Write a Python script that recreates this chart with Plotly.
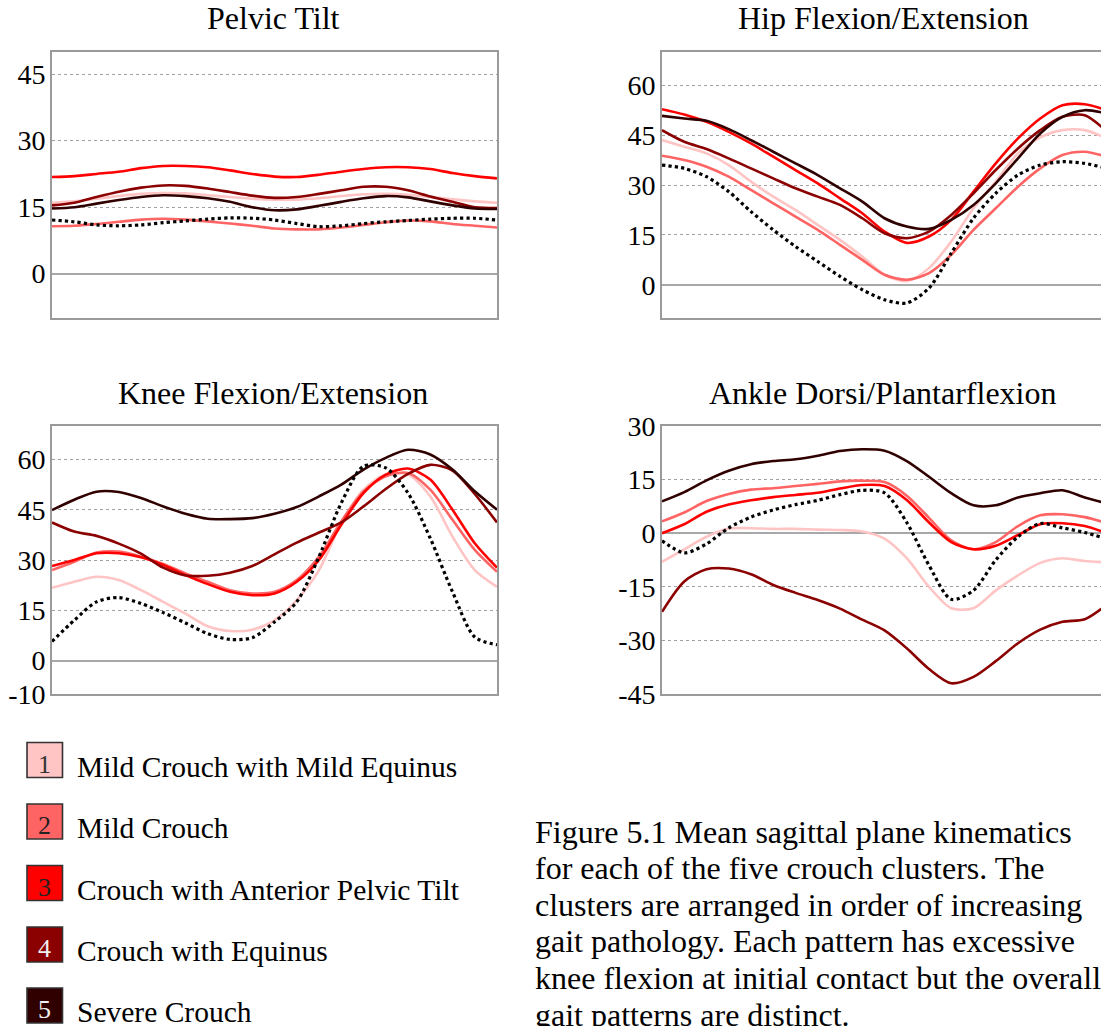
import plotly.graph_objects as go

# ---------------- data ----------------
pct = [0, 5, 10, 15, 20, 25, 30, 35, 40, 45, 50, 55, 60, 65, 70, 75, 80, 85, 90, 95, 100]

cluster_names = ["Mild Crouch with Mild Equinus", "Mild Crouch",
                 "Crouch with Anterior Pelvic Tilt", "Crouch with Equinus", "Severe Crouch"]
cluster_nums = ["1", "2", "3", "4", "5"]
cluster_colors = ["#FFC4C4", "#FF6464", "#FF0000", "#8B0000", "#300000"]
num_colors = ["#333333", "#222222", "#222222", "#F0F0F0", "#F0F0F0"]

panel_titles = ["Pelvic Tilt", "Hip Flexion/Extension",
                "Knee Flexion/Extension", "Ankle Dorsi/Plantarflexion"]

# Pelvic tilt (deg)
pelvic_c1 = [16.0, 16.3, 16.9, 17.5, 18.0, 18.2, 18.1, 17.7, 17.3, 16.9, 16.7, 16.7, 17.0, 17.5, 17.9, 18.0, 17.8, 17.3, 16.8, 16.3, 16.0]
pelvic_c2 = [10.7, 10.8, 11.2, 11.7, 12.2, 12.4, 12.2, 11.8, 11.3, 10.8, 10.2, 10.0, 10.0, 10.4, 11.0, 11.6, 12.0, 11.8, 11.2, 10.8, 10.4]
pelvic_c3 = [21.8, 22.0, 22.5, 23.0, 23.8, 24.3, 24.3, 24.0, 23.3, 22.5, 21.9, 21.8, 22.3, 23.0, 23.6, 24.0, 24.0, 23.6, 22.7, 22.0, 21.5]
pelvic_c4 = [15.4, 16.0, 17.3, 18.5, 19.4, 19.9, 19.8, 19.2, 18.4, 17.6, 17.1, 17.3, 18.0, 18.8, 19.6, 19.6, 18.8, 17.4, 16.2, 15.0, 14.8]
pelvic_c5 = [14.7, 15.0, 15.8, 16.6, 17.3, 17.7, 17.5, 17.0, 16.2, 15.0, 14.3, 14.5, 15.3, 16.2, 17.0, 17.5, 17.2, 16.3, 15.4, 14.7, 14.6]
pelvic_norm = [12.1, 11.7, 11.0, 10.8, 11.0, 11.5, 11.9, 12.3, 12.6, 12.5, 12.1, 11.3, 10.6, 10.8, 11.3, 11.7, 12.0, 12.3, 12.5, 12.5, 12.1]

# Hip flexion/extension (deg)
hip_c1 = [43.5, 41.5, 39.5, 36.0, 31.0, 26.5, 22.5, 18.0, 13.5, 8.5, 3.0, 1.1, 5.0, 13.0, 23.0, 31.0, 39.5, 44.3, 46.5, 46.5, 44.0]
hip_c2 = [38.8, 37.5, 35.5, 32.5, 28.5, 24.5, 20.5, 16.5, 12.0, 7.5, 3.0, 1.5, 3.5, 9.0, 16.5, 23.0, 29.5, 35.0, 39.0, 40.0, 38.5]
hip_c3 = [52.8, 51.2, 49.0, 46.0, 42.5, 38.5, 34.5, 30.5, 26.0, 21.5, 16.0, 12.6, 14.5, 19.5, 28.0, 36.5, 44.0, 50.0, 54.0, 54.3, 52.5]
hip_c4 = [46.5, 43.0, 40.8, 38.0, 35.0, 32.0, 29.0, 26.5, 24.0, 20.0, 15.5, 14.0, 16.0, 21.0, 27.5, 34.5, 41.0, 46.5, 50.5, 51.0, 46.0]
hip_c5 = [50.8, 50.0, 49.3, 46.8, 43.5, 40.0, 36.5, 33.0, 29.0, 25.0, 20.0, 17.5, 16.8, 19.5, 24.0, 30.5, 38.0, 45.5, 50.5, 52.5, 51.5]
hip_norm = [36.0, 35.0, 32.5, 28.0, 22.0, 16.5, 11.5, 7.0, 2.5, -1.5, -4.5, -5.5, -1.0, 9.5, 20.0, 27.5, 33.0, 36.0, 37.0, 36.5, 35.0]

# Knee flexion/extension (deg)
knee_c1 = [21.7, 23.5, 25.0, 24.0, 21.0, 17.5, 14.0, 10.2, 8.8, 9.2, 12.0, 18.0, 27.0, 41.0, 51.0, 55.5, 55.5, 49.0, 37.0, 27.0, 22.0]
knee_c2 = [27.0, 29.5, 32.2, 32.5, 31.0, 28.8, 26.0, 23.5, 21.0, 20.0, 20.5, 24.0, 31.0, 41.5, 50.5, 55.0, 56.0, 51.0, 42.0, 33.0, 26.5]
knee_c3 = [28.2, 30.0, 32.0, 32.0, 30.8, 28.5, 25.5, 22.8, 20.5, 19.5, 20.0, 23.5, 30.0, 40.5, 50.0, 55.5, 57.3, 54.0, 45.0, 35.0, 27.7]
knee_c4 = [41.2, 38.5, 37.2, 34.9, 31.9, 27.7, 25.4, 25.3, 26.2, 28.2, 31.7, 35.2, 38.2, 41.2, 46.0, 51.2, 55.7, 58.4, 56.7, 49.7, 41.2]
knee_c5 = [44.9, 48.0, 50.4, 50.3, 48.5, 46.0, 43.8, 42.3, 42.2, 42.5, 43.8, 45.8, 49.0, 52.5, 57.0, 60.5, 62.9, 61.5, 57.0, 50.5, 45.0]
knee_norm = [5.7, 12.0, 17.5, 18.8, 17.0, 14.3, 11.2, 8.0, 6.3, 6.8, 11.5, 17.5, 31.0, 47.0, 58.0, 57.5, 50.0, 36.5, 20.5, 7.0, 4.7]

# Ankle dorsi/plantarflexion (deg)
ankle_c1 = [-8.0, -4.5, -1.0, 1.3, 1.4, 1.2, 1.2, 1.0, 0.9, 0.5, -1.5, -7.0, -15.0, -21.0, -21.0, -16.0, -11.8, -8.3, -7.0, -7.8, -8.2]
ankle_c2 = [3.3, 5.8, 9.0, 11.0, 12.2, 12.6, 13.2, 13.8, 14.5, 14.7, 14.3, 10.5, 4.3, -2.0, -4.5, -2.5, 2.0, 5.0, 5.3, 4.5, 2.8]
ankle_c3 = [0.0, 2.5, 6.0, 8.0, 9.2, 10.1, 10.7, 11.3, 12.5, 13.5, 13.2, 9.3, 3.0, -2.5, -4.5, -3.5, -0.5, 2.5, 2.8, 2.0, 0.0]
ankle_c4 = [-22.0, -13.5, -10.1, -9.9, -11.5, -14.5, -16.7, -18.7, -21.1, -24.2, -27.2, -32.2, -38.0, -42.0, -40.2, -35.8, -30.8, -27.0, -24.8, -24.1, -20.0]
ankle_c5 = [8.9, 11.5, 14.8, 17.5, 19.3, 20.2, 20.7, 21.7, 23.0, 23.5, 23.1, 20.2, 15.8, 11.2, 7.8, 7.8, 10.0, 11.2, 12.0, 10.0, 8.3]
ankle_norm = [-2.1, -5.5, -3.0, 1.5, 4.5, 6.5, 8.0, 9.2, 10.8, 12.0, 11.3, 3.0, -9.0, -18.5, -16.0, -7.5, -1.0, 2.7, 1.5, 0.2, -1.6]

panels = [
    [pelvic_c1, pelvic_c2, pelvic_c3, pelvic_c4, pelvic_c5, pelvic_norm],
    [hip_c1, hip_c2, hip_c3, hip_c4, hip_c5, hip_norm],
    [knee_c1, knee_c2, knee_c3, knee_c4, knee_c5, knee_norm],
    [ankle_c1, ankle_c2, ankle_c3, ankle_c4, ankle_c5, ankle_norm],
]
y_ranges = [[-10, 50], [-10, 70], [-10, 70], [-45, 30]]
y_ticks = [[0, 15, 30, 45], [0, 15, 30, 45, 60], [-10, 0, 15, 30, 45, 60], [-45, -30, -15, 0, 15, 30]]

caption_lines = [
    "Figure 5.1 Mean sagittal plane kinematics",
    "for each of the five crouch clusters. The",
    "clusters are arranged in order of increasing",
    "gait pathology. Each pattern has excessive",
    "knee flexion at initial contact but the overall",
    "gait patterns are distinct.",
]

# ---------------- layout geometry ----------------
W, H = 1101, 1026
FONT = "Liberation Serif"

def px_x(p):
    return p / W

def px_y(p):
    return 1 - p / H

x_doms = [[px_x(52), px_x(497)], [px_x(662), 1.0], [px_x(52), px_x(497)], [px_x(662), 1.0]]
y_doms = [[px_y(318), px_y(52)], [px_y(318), px_y(52)], [px_y(694), px_y(426)], [px_y(694), px_y(426)]]
x_ranges = [[0, 100], [0, 100 * (1101 - 662) / 445], [0, 100], [0, 100 * (1101 - 662) / 445]]

fig = go.Figure()

for i, series in enumerate(panels):
    xa = "x" if i == 0 else f"x{i+1}"
    ya = "y" if i == 0 else f"y{i+1}"
    for k in range(5):
        fig.add_trace(go.Scatter(
            x=pct, y=series[k], xaxis=xa, yaxis=ya, mode="lines",
            line=dict(color=cluster_colors[k], width=2.6, shape="spline", smoothing=0.8),
            showlegend=False, hoverinfo="skip"))
    fig.add_trace(go.Scatter(
        x=pct, y=series[5], xaxis=xa, yaxis=ya, mode="lines",
        line=dict(color="#000000", width=3.2, dash="dot", shape="spline", smoothing=0.8),
        showlegend=False, hoverinfo="skip"))

layout_axes = {}
for i in range(4):
    xn = "xaxis" if i == 0 else f"xaxis{i+1}"
    yn = "yaxis" if i == 0 else f"yaxis{i+1}"
    layout_axes[xn] = dict(
        domain=x_doms[i], range=x_ranges[i], showticklabels=False, showgrid=False,
        zeroline=False, showline=True, mirror=True, linecolor="#9a9a9a", linewidth=1.6,
        anchor="y" if i == 0 else f"y{i+1}", fixedrange=True, automargin=False)
    layout_axes[yn] = dict(
        domain=y_doms[i], range=y_ranges[i], tickvals=y_ticks[i],
        ticktext=[str(v) for v in y_ticks[i]],
        tickfont=dict(family=FONT, size=28, color="#000000"), ticks="", ticklen=0,
        ticklabelstandoff=-1,
        showgrid=True, gridcolor="#a0a0a0", griddash="dot", gridwidth=1,
        zeroline=True, zerolinecolor="#a8a8a8", zerolinewidth=1.8,
        showline=True, mirror=(i % 2 == 0), linecolor="#9a9a9a", linewidth=1.6,
        anchor="x" if i == 0 else f"x{i+1}", fixedrange=True, automargin=False)

annotations = []
title_pos = [(273, 18.5), (883, 18.5), (273, 393.3), (882, 393.3)]
for t, (cx, cy) in zip(panel_titles, title_pos):
    annotations.append(dict(text=t, x=px_x(cx), y=px_y(cy), xref="paper", yref="paper",
                            xanchor="center", yanchor="middle", showarrow=False,
                            font=dict(family=FONT, size=32, color="#000000")))

shapes = []
box_centers = [760, 821.5, 883, 944.5, 1005.5]
for k in range(5):
    cy = box_centers[k]
    shapes.append(dict(type="rect", xref="paper", yref="paper",
                       x0=px_x(27), x1=px_x(62.5), y0=px_y(cy + 17.5), y1=px_y(cy - 17.5),
                       fillcolor=cluster_colors[k], line=dict(color="#333333", width=1.6)))
    annotations.append(dict(text=cluster_nums[k], x=px_x(44.8), y=px_y(cy + 4), xref="paper", yref="paper",
                            xanchor="center", yanchor="middle", showarrow=False,
                            font=dict(family=FONT, size=26, color=num_colors[k])))
    annotations.append(dict(text=cluster_names[k], x=px_x(75), y=px_y(cy + 6.5), xref="paper", yref="paper",
                            xanchor="left", yanchor="middle", showarrow=False,
                            font=dict(family=FONT, size=29.5, color="#000000")))

for j, line in enumerate(caption_lines):
    annotations.append(dict(text=line, x=px_x(533), y=px_y(831.5 + 36.6 * j), xref="paper", yref="paper",
                            xanchor="left", yanchor="middle", showarrow=False,
                            font=dict(family=FONT, size=32, color="#000000")))

fig.update_layout(
    width=W, height=H, margin=dict(l=0, r=0, t=0, b=0, pad=0, autoexpand=False),
    paper_bgcolor="#ffffff", plot_bgcolor="#ffffff",
    showlegend=False, annotations=annotations, shapes=shapes, **layout_axes)

fig.write_html("out.html")
